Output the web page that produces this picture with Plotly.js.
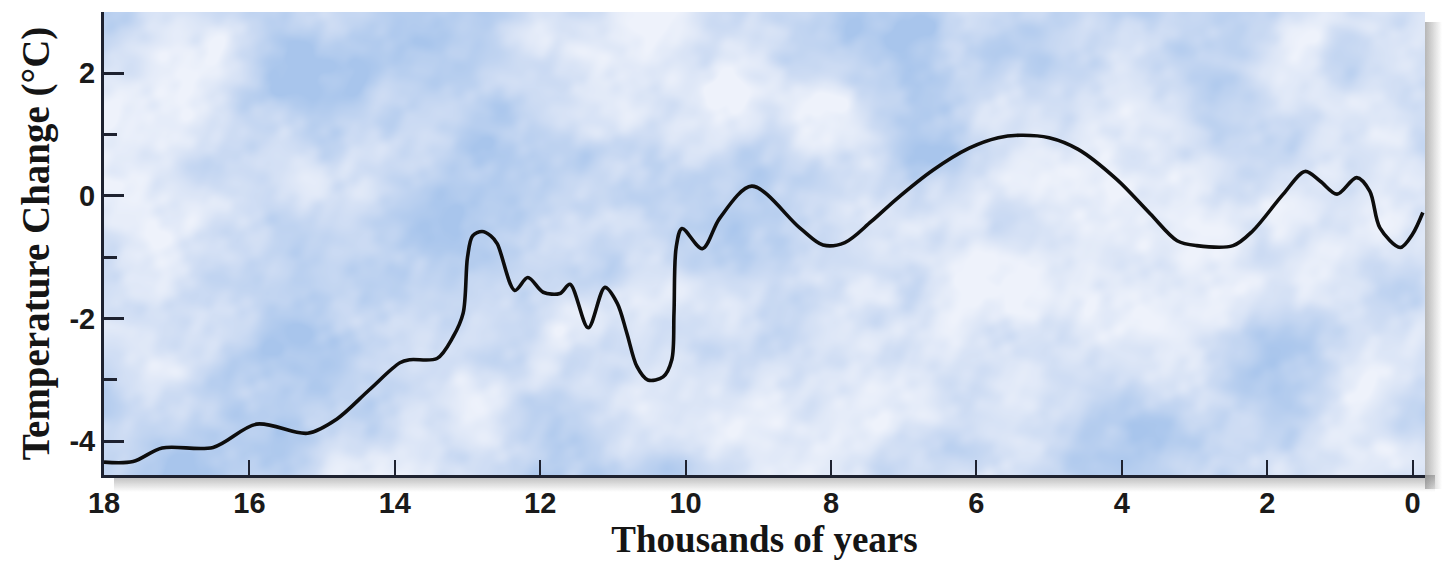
<!DOCTYPE html>
<html>
<head>
<meta charset="utf-8">
<script src="https://cdn.plot.ly/plotly-3.0.1.min.js"></script>
<style>
  html, body { margin: 0; padding: 0; background: #ffffff; }
  #chart { width: 1443px; height: 561px; }
</style>
</head>
<body>
<div id="chart"></div>
<script>
// ---- Data ----
const years = [18.0, 17.6, 17.2, 16.5, 15.9, 15.2, 14.8, 14.35, 13.93, 13.79, 13.42, 13.2, 13.06, 13.0, 12.93, 12.8, 12.68, 12.59,
  12.35, 12.17, 11.96, 11.73, 11.59, 11.34, 11.11, 10.94, 10.81, 10.67, 10.52, 10.31, 10.19, 10.16, 10.13, 10.05,
  9.77, 9.53, 9.09, 8.43, 8.11, 7.81, 7.45, 7.1, 6.6, 6.1, 5.7, 5.4, 5.0, 4.6, 4.07, 3.61, 3.24, 2.97, 2.47, 2.2,
  1.78, 1.48, 1.27, 1.04, 0.77, 0.59, 0.45, 0.17, 0.0, -0.14];
const tempChange = [-4.34, -4.33, -4.11, -4.10, -3.72, -3.87, -3.64, -3.16, -2.72, -2.67, -2.65, -2.30, -1.91, -1.0, -0.65, -0.58, -0.65, -0.78,
  -1.54, -1.33, -1.57, -1.59, -1.44, -2.15, -1.49, -1.75, -2.23, -2.78, -3.0, -2.95, -2.67, -1.91, -0.84, -0.53,
  -0.86, -0.36, 0.16, -0.52, -0.80, -0.76, -0.42, -0.05, 0.42, 0.78, 0.95, 0.99, 0.95, 0.76, 0.27, -0.29, -0.73, -0.81, -0.81, -0.57,
  0.03, 0.40, 0.24, 0.03, 0.30, 0.08, -0.52, -0.84, -0.62, -0.27];
const xTickVals = [0, 2, 4, 6, 8, 10, 12, 14, 16, 18];
const yTickVals = [-4, -2, 0, 2];
const yMinorVals = [-3, -1, 1, 3];
const xTitle = 'Thousands of years';
const yTitle = 'Temperature Change (°C)';

// ---- Layout geometry ----
const W = 1443, Hh = 561;
const M = { l: 104, r: 18, t: 12, b: 86 };
const PW = W - M.l - M.r, PH = Hh - M.t - M.b;
const SH = 17; // shadow band

// ---- Cloudy sky background texture (deterministic) ----
function hash(ix, iy, seed) {
  let h = Math.imul(ix, 374761393) ^ Math.imul(iy, 668265263) ^ Math.imul(seed, 982451653);
  h = Math.imul(h ^ (h >>> 13), 1274126177);
  h = h ^ (h >>> 16);
  return (h >>> 0) / 4294967295;
}
function noise(x, y, s, seed) {
  const gx = x / s, gy = y / s;
  const ix = Math.floor(gx), iy = Math.floor(gy);
  let fx = gx - ix, fy = gy - iy;
  fx = fx * fx * (3 - 2 * fx); fy = fy * fy * (3 - 2 * fy);
  const a = hash(ix, iy, seed), b = hash(ix + 1, iy, seed), c = hash(ix, iy + 1, seed), d = hash(ix + 1, iy + 1, seed);
  return a + (b - a) * fx + (c - a) * fy + (a - b - c + d) * fx * fy;
}
function makeBackground() {
  const cw = PW + SH, ch = PH + SH;
  const cv = document.createElement('canvas');
  cv.width = cw; cv.height = ch;
  const ctx = cv.getContext('2d');
  const img = ctx.createImageData(PW, PH);
  const stops = [[0, [168, 197, 236]], [0.5, [204, 219, 243]], [0.75, [222, 231, 247]], [1, [238, 242, 251]]];
  for (let y = 0; y < PH; y++) {
    for (let x = 0; x < PW; x++) {
      const u = x + 0.45 * y, v = y - 0.3 * x;
      let f = 0.45 * noise(u, v, 110, 3) + 0.28 * noise(u, v, 55, 7) + 0.17 * noise(u, v, 26, 11) + 0.10 * noise(u, v, 13, 19);
      f = Math.min(1, Math.max(0, (f - 0.5) * 1.9 + 0.5));
      let k = 0;
      while (k < stops.length - 2 && f > stops[k + 1][0]) k++;
      const t = (f - stops[k][0]) / (stops[k + 1][0] - stops[k][0]);
      const c0 = stops[k][1], c1 = stops[k + 1][1];
      const i = (y * PW + x) * 4;
      img.data[i] = c0[0] + (c1[0] - c0[0]) * t;
      img.data[i + 1] = c0[1] + (c1[1] - c0[1]) * t;
      img.data[i + 2] = c0[2] + (c1[2] - c0[2]) * t;
      img.data[i + 3] = 255;
    }
  }
  let g = ctx.createLinearGradient(PW, 0, PW + SH, 0);
  g.addColorStop(0, 'rgba(110,110,110,0.5)'); g.addColorStop(1, 'rgba(110,110,110,0)');
  ctx.fillStyle = g; ctx.fillRect(PW, 10, SH, PH + 4);
  g = ctx.createLinearGradient(0, PH, 0, PH + SH);
  g.addColorStop(0, 'rgba(110,110,110,0.5)'); g.addColorStop(1, 'rgba(110,110,110,0)');
  ctx.fillStyle = g; ctx.fillRect(10, PH, PW, SH);
  ctx.putImageData(img, 0, 0);
  return cv.toDataURL('image/png');
}

const bg = makeBackground();

const trace = {
  x: years, y: tempChange, type: 'scatter', mode: 'lines',
  line: { color: '#0d0d0d', width: 3.6, shape: 'spline', smoothing: 0.9 },
  hoverinfo: 'x+y'
};

const axisColor = '#1e2230';
const layout = {
  width: W, height: Hh,
  margin: M,
  paper_bgcolor: '#ffffff',
  plot_bgcolor: 'rgba(0,0,0,0)',
  showlegend: false,
  images: [{
    source: bg, xref: 'paper', yref: 'paper', x: 0, y: 1,
    sizex: (PW + SH) / PW, sizey: (PH + SH) / PH,
    xanchor: 'left', yanchor: 'top', sizing: 'stretch', layer: 'below'
  }],
  xaxis: {
    range: [18, -0.17], tickvals: xTickVals, ticktext: xTickVals.map(String),
    ticks: 'inside', ticklen: 15, tickwidth: 2, tickcolor: axisColor,
    showline: true, linecolor: axisColor, linewidth: 3, mirror: false,
    showgrid: false, zeroline: false,
    tickfont: { family: 'Liberation Sans, Arial, sans-serif', size: 29, weight: 700, color: '#1a1a1a' },
    title: { text: xTitle, standoff: 4, font: { family: 'Liberation Serif, Times New Roman, serif', size: 37, weight: 700, color: '#151515' } }
  },
  yaxis: {
    range: [-4.55, 3], tickvals: yTickVals, ticktext: yTickVals.map(String),
    ticks: 'inside', ticklen: 20, tickwidth: 3, tickcolor: axisColor,
    minor: { tickvals: yMinorVals, ticks: 'inside', ticklen: 13, tickwidth: 3, tickcolor: axisColor },
    showline: true, linecolor: axisColor, linewidth: 3, mirror: false,
    showgrid: false, zeroline: false,
    tickfont: { family: 'Liberation Sans, Arial, sans-serif', size: 29, weight: 700, color: '#1a1a1a' },
    title: { text: yTitle, standoff: 8, font: { family: 'Liberation Serif, Times New Roman, serif', size: 39, weight: 700, color: '#151515' } }
  }
};

Plotly.newPlot('chart', [trace], layout, { displayModeBar: false });
</script>
</body>
</html>
